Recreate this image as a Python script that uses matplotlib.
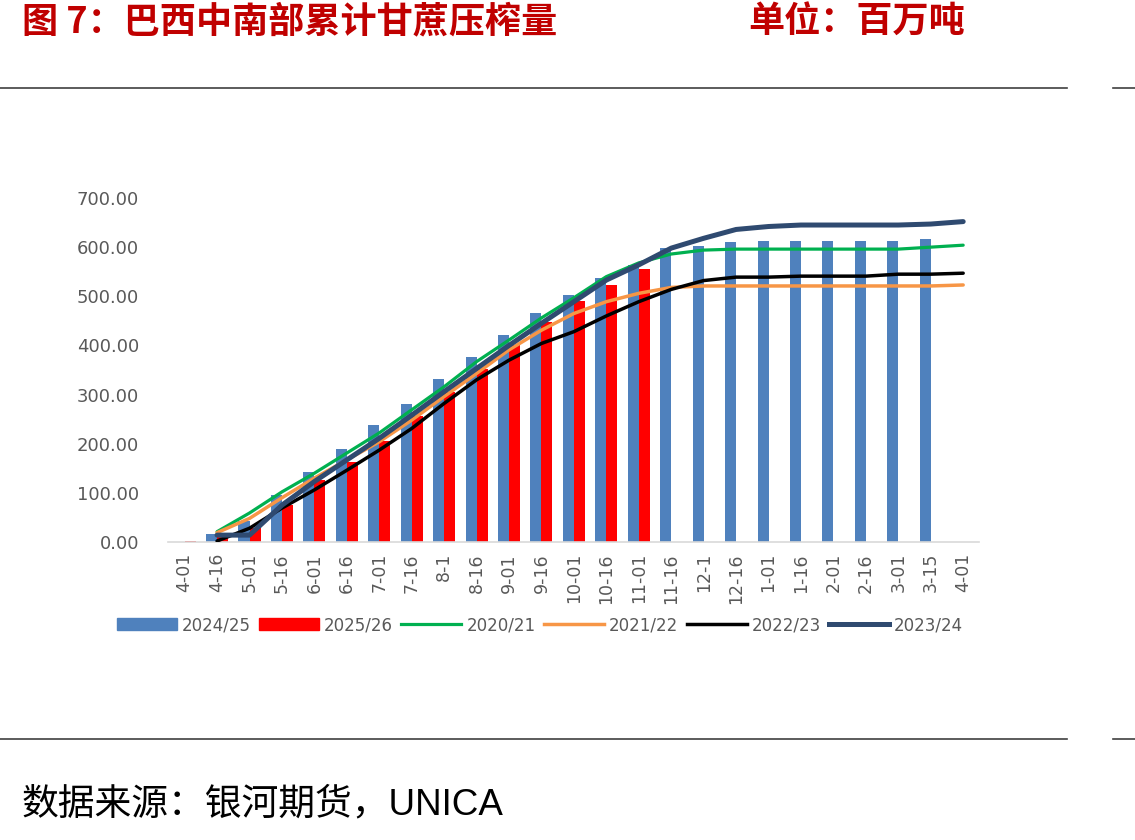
import numpy as np
import matplotlib
matplotlib.use("Agg")
import matplotlib.pyplot as plt
from matplotlib.lines import Line2D
from matplotlib.patches import Patch

plt.rcParams["font.family"] = ["DejaVu Sans", "Noto Sans CJK SC"]

CJK = ["Noto Sans CJK SC", "DejaVu Sans"]
nan = np.nan

dates = ["4-01", "4-16", "5-01", "5-16", "6-01", "6-16", "7-01", "7-16", "8-1", "8-16",
         "9-01", "9-16", "10-01", "10-16", "11-01", "11-16", "12-1", "12-16", "1-01", "1-16",
         "2-01", "2-16", "3-01", "3-15", "4-01"]

crush_2024_25 = [nan, 16, 43, 96, 143, 190, 239, 281, 332, 377, 421, 467, 503, 538, 564, 598,
                 603, 611, 613, 613, 613, 613, 613, 617, nan]
crush_2025_26 = [3, 12, 28, 75, 126, 163, 205, 257, 306, 352, 400, 448, 490, 523, 556,
                 nan, nan, nan, nan, nan, nan, nan, nan, nan, nan]
crush_2020_21 = [nan, 21, 59, 102, 140, 181, 222, 269, 316, 367, 411, 456, 497, 540, 568, 586,
                 594, 596, 596, 596, 596, 596, 596, 600, 604]
crush_2021_22 = [nan, 19, 48, 90, 130, 167, 204, 248, 296, 343, 391, 431, 465, 489, 506, 518,
                 521, 521, 521, 521, 521, 521, 521, 521, 523]
crush_2022_23 = [nan, 2, 28, 69, 106, 146, 187, 231, 282, 330, 370, 404, 428, 460, 489, 514,
                 532, 539, 539, 541, 541, 541, 545, 545, 547]
crush_2023_24 = [nan, 14, 14, 75, 123, 167, 211, 258, 306, 353, 400, 445, 489, 533, 564, 598,
                 618, 636, 642, 645, 645, 645, 645, 647, 652]

W, H = 1135, 840
fig = plt.figure(figsize=(W / 100, H / 100), dpi=100)
ax = fig.add_axes([168.4 / W, 1 - 542 / H, 811 / W, 344 / H])

x = np.arange(len(dates))
bw = 0.34
ax.bar(x - bw / 2, crush_2024_25, width=bw, color="#4F81BD", zorder=2)
ax.bar(x + bw / 2, crush_2025_26, width=bw, color="#FF0000", zorder=2)

line_styles = [
    ("2020/21", crush_2020_21, "#00B050", 2.3),
    ("2021/22", crush_2021_22, "#F79646", 2.5),
    ("2022/23", crush_2022_23, "#000000", 2.5),
    ("2023/24", crush_2023_24, "#2F4A70", 3.6),
]
for label, values, color, lw in line_styles:
    ax.plot(x, values, color=color, lw=lw, solid_capstyle="round", zorder=3)

ax.set_xlim(-0.5, len(dates) - 0.5)
ax.set_ylim(0, 700)
ax.set_yticks(np.arange(0, 701, 100))
ax.set_yticklabels([f"{v:.2f}" for v in np.arange(0, 701, 100)])
ax.set_xticks(x)
ax.set_xticklabels(dates, rotation=90)
ax.tick_params(axis="y", length=0, pad=21, labelsize=13, labelcolor="#595959")
ax.tick_params(axis="x", length=0, pad=8, labelsize=12.5, labelcolor="#595959")
for side in ["top", "right", "left"]:
    ax.spines[side].set_visible(False)
ax.spines["bottom"].set_color("#D9D9D9")
ax.spines["bottom"].set_linewidth(1.2)

handles = [Patch(color="#4F81BD"), Patch(color="#FF0000")]
handles += [Line2D([], [], color=c, lw=lw) for _, _, c, lw in line_styles]
labels = ["2024/25", "2025/26"] + [s[0] for s in line_styles]
leg = fig.legend(handles, labels, loc="center", bbox_to_anchor=(540 / W, 1 - 625 / H), ncol=6,
                 frameon=False, fontsize=12, handlelength=3.6, handleheight=0.7,
                 handletextpad=0.3, columnspacing=0.5)
for t in leg.get_texts():
    t.set_color("#595959")

fig.text(22 / W, 1 - 22 / H, "图 7：巴西中南部累计甘蔗压榨量", family=CJK, weight="bold",
         size=26, color="#C00000", va="center", ha="left")
fig.text(748 / W, 1 - 22 / H, "单位：百万吨", family=CJK, weight="bold",
         size=26, color="#C00000", va="center", ha="left")
fig.text(22 / W, 1 - 805 / H, "数据来源：银河期货，UNICA", family=["Liberation Sans", "Noto Sans CJK SC"],
         size=26.5, color="black", va="center", ha="left")

for yy in [88, 739]:
    fig.add_artist(Line2D([0, 1067 / W], [1 - yy / H] * 2, color="#404040", lw=1.2))
    fig.add_artist(Line2D([1113 / W, 1], [1 - yy / H] * 2, color="#404040", lw=1.2))

fig.savefig("out.png", dpi=100)
